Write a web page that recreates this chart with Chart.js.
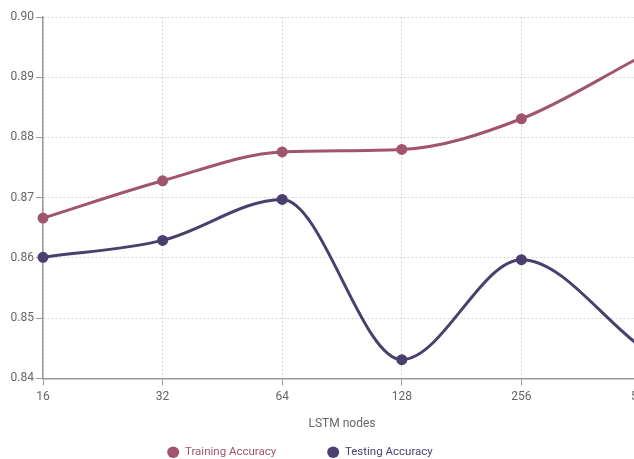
<!DOCTYPE html>
<html>
<head>
<meta charset="utf-8">
<script src="https://cdn.jsdelivr.net/npm/chart.js@4"></script>
<style>
  html, body { margin: 0; padding: 0; background: #fff; }
  #wrap { width: 634px; height: 459px; overflow: hidden; position: relative; }
  #c { position: absolute; left: 0; top: 0; }
</style>
</head>
<body>
<div id="wrap"><canvas id="c" width="660" height="468"></canvas></div>
<script>
const categories = ["16", "32", "64", "128", "256", "512"];
const trainingAccuracy = [0.8666, 0.8728, 0.8776, 0.8780, 0.8831, 0.8934];
const testingAccuracy = [0.8601, 0.8629, 0.8697, 0.8431, 0.8597, 0.8452];
const yTicks = [0.84, 0.85, 0.86, 0.87, 0.88, 0.89, 0.90];
const seriesNames = ["Training Accuracy", "Testing Accuracy"];
const seriesColors = ["#a0546f", "#4b3f6d"];

const FONT = "Roboto, 'Liberation Sans', Arial, sans-serif";

new Chart(document.getElementById('c'), {
  type: 'line',
  data: {
    labels: categories,
    datasets: [trainingAccuracy, testingAccuracy].map((vals, i) => ({
      label: seriesNames[i],
      data: vals,
      borderColor: seriesColors[i],
      backgroundColor: seriesColors[i],
      pointBackgroundColor: seriesColors[i],
      pointBorderColor: seriesColors[i],
      pointRadius: 4,
      pointStyle: 'circle',
      borderWidth: 3,
      cubicInterpolationMode: 'monotone',
      fill: false
    }))
  },
  options: {
    responsive: false,
    animation: false,
    layout: { padding: { top: 17, right: 19, left: -41, bottom: 0 } },
    plugins: {
      tooltip: { enabled: false },
      legend: {
        position: 'bottom',
        title: {
          display: true,
          text: '',
          font: { family: FONT, size: 12 },
          padding: { top: -54, bottom: 0 }
        },
        labels: {
          usePointStyle: true,
          pointStyleWidth: 12,
          boxHeight: 8,
          padding: 51,
          font: { family: FONT, size: 11.5 },
          generateLabels: (chart) => chart.data.datasets.map((ds, i) => ({
            text: ds.label,
            fillStyle: seriesColors[i],
            strokeStyle: seriesColors[i],
            fontColor: seriesColors[i],
            lineWidth: 0,
            pointStyle: 'circle',
            datasetIndex: i,
            hidden: false
          }))
        }
      }
    },
    scales: {
      x: {
        type: 'category',
        offset: false,
        grid: {
          color: '#d6d6d6',
          tickColor: '#999',
          tickLength: 7
        },
        border: { display: true, color: '#999', width: 1.5, dash: [2, 2] },
        ticks: {
          color: '#666',
          font: { family: FONT, size: 12 },
          padding: 4,
          maxRotation: 0
        },
        title: {
          display: true,
          text: 'LSTM nodes',
          color: '#666',
          font: { family: FONT, size: 12 },
          padding: { top: 9, bottom: 4 }
        }
      },
      y: {
        min: 0.84,
        max: 0.90,
        afterBuildTicks: (axis) => { axis.ticks = yTicks.map(v => ({ value: v })); },
        afterFit: (axis) => { axis.width = 84; },
        grid: {
          color: '#d6d6d6',
          tickColor: '#999',
          tickLength: 7
        },
        border: { display: true, color: '#999', width: 1.5, dash: [2, 2] },
        ticks: {
          color: '#666',
          font: { family: FONT, size: 12 },
          padding: 2,
          callback: (v) => Number(v).toFixed(2)
        }
      }
    }
  }
});
</script>
</body>
</html>
